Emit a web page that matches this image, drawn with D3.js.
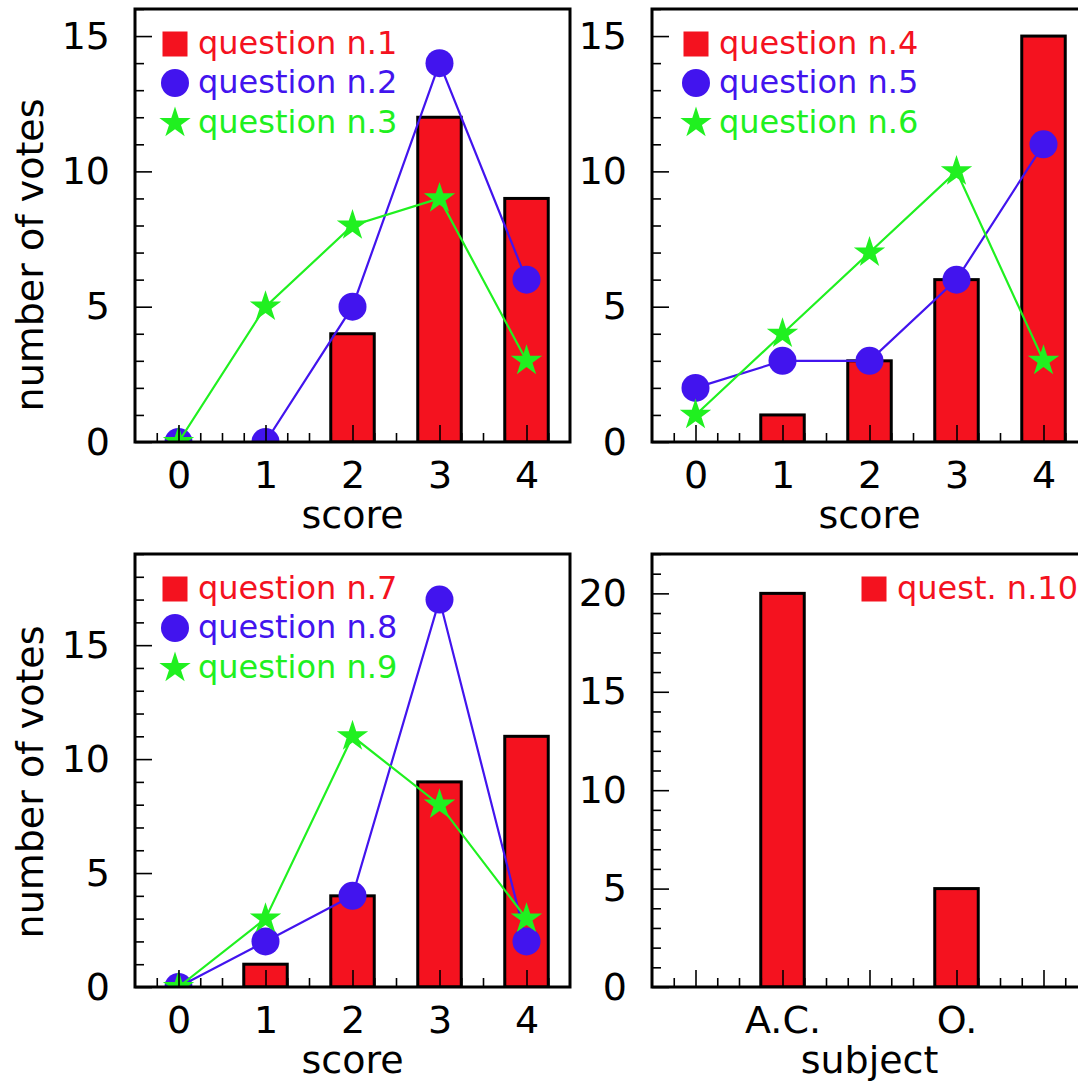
<!DOCTYPE html>
<html>
<head>
<meta charset="utf-8">
<script src="https://cdn.jsdelivr.net/npm/d3@7"></script>
<style>
  body { margin: 0; background: #fff; }
  svg { display: block; font-family: "DejaVu Sans", Verdana, sans-serif; }
</style>
</head>
<body>
<div id="chart"></div>
<script>
// data
var scores = [0, 1, 2, 3, 4];
var subjectTicks = ["", "A.C.", "", "O.", ""];

var q1 = [0, 0, 4, 12, 9];
var q2 = [0, 0, 5, 14, 6];
var q3 = [0, 5, 8, 9, 3];

var q4 = [0, 1, 3, 6, 15];
var q5 = [2, 3, 3, 6, 11];
var q6 = [1, 4, 7, 10, 3];

var q7 = [0, 1, 4, 9, 11];
var q8 = [0, 2, 4, 17, 2];
var q9 = [0, 3, 11, 8, 3];

var q10 = [0, 20, 0, 5, 0];

var RED = "#f4121f", BLUE = "#4214ee", GREEN = "#20f020";
var fs = 38;

var svg = d3.select("#chart").append("svg")
  .attr("width", 1078)
  .attr("height", 1081);

var W = 435, H = 433;

var panels = [
  { left: 135, top: 9, yMax: 16, labels: scores, xTitle: "score", yTitle: true, titleY: 255,
    bars: q1, lines: [q2, q3], names: ["question n.1", "question n.2", "question n.3"], legX: 27 },
  { left: 652, top: 9, yMax: 16, labels: scores, xTitle: "score", yTitle: false,
    bars: q4, lines: [q5, q6], names: ["question n.4", "question n.5", "question n.6"], legX: 31 },
  { left: 135, top: 554, yMax: 19, labels: scores, xTitle: "score", yTitle: true, titleY: 782,
    bars: q7, lines: [q8, q9], names: ["question n.7", "question n.8", "question n.9"], legX: 27 },
  { left: 652, top: 554, yMax: 22, labels: subjectTicks, xTitle: "subject", yTitle: false,
    bars: q10, lines: [], names: ["quest. n.10"], legX: 209 }
];

var lineColors = [BLUE, GREEN];
var markerKinds = ["circle", "star"];

function marker(g, kind, color, cx, cy) {
  if (kind == "circle") {
    g.append("circle").attr("cx", cx).attr("cy", cy).attr("r", 14).attr("fill", color);
  } else {
    g.append("path")
      .attr("d", d3.symbol().type(d3.symbolStar).size(16.5 * 16.5 / 0.8908)())
      .attr("transform", "translate(" + cx + "," + cy + ")")
      .attr("fill", color);
  }
}

panels.forEach(function(p, pi) {
  var g = svg.append("g").attr("transform", "translate(" + p.left + "," + p.top + ")");

  var x = d3.scaleLinear().domain([-0.5, 4.5]).range([0, W]);
  var y = d3.scaleLinear().domain([0, p.yMax]).range([H, 0]);

  g.append("clipPath").attr("id", "clip" + pi)
    .append("rect").attr("width", W).attr("height", H);

  var plot = g.append("g").attr("clip-path", "url(#clip" + pi + ")");

  // bars
  plot.selectAll("rect.bar")
    .data(p.bars.map(function(v, i) { return { i: i, v: v }; }).filter(function(d) { return d.v > 0; }))
    .enter()
    .append("rect")
    .attr("class", "bar")
    .attr("x", function(d) { return x(d.i - 0.25); })
    .attr("width", x(0.25) - x(-0.25))
    .attr("y", function(d) { return y(d.v); })
    .attr("height", function(d) { return H - y(d.v); })
    .attr("fill", RED)
    .attr("stroke", "#000")
    .attr("stroke-width", 3);

  // graphs: line then markers
  p.lines.forEach(function(vals, k) {
    var line = d3.line()
      .x(function(d, i) { return x(scores[i]); })
      .y(function(d) { return y(d); });
    plot.append("path")
      .datum(vals)
      .attr("d", line)
      .attr("fill", "none")
      .attr("stroke", lineColors[k])
      .attr("stroke-width", 2.2);
    vals.forEach(function(v, i) {
      marker(plot, markerKinds[k], lineColors[k], x(scores[i]), y(v));
    });
  });

  // axes, ticks pointing inward
  var xMajor = d3.axisBottom(x)
    .tickValues(scores)
    .tickSizeInner(-17).tickSizeOuter(0).tickPadding(19)
    .tickFormat(function(d, i) { return p.labels[i]; });
  var xMinor = d3.axisBottom(x)
    .tickValues(d3.range(-0.25, 4.5, 0.25).filter(function(v) { return Math.abs(v - Math.round(v)) > 0.01; }))
    .tickSizeInner(-9).tickSizeOuter(0).tickFormat("");

  var yMajor = d3.axisLeft(y)
    .tickValues(d3.range(0, p.yMax + 0.1, 5))
    .tickSizeInner(-17).tickSizeOuter(0).tickPadding(25)
    .tickFormat(d3.format("d"));
  var yMinor = d3.axisLeft(y)
    .tickValues(d3.range(1, p.yMax + 0.1, 1).filter(function(v) { return v % 5 != 0; }))
    .tickSizeInner(-9).tickSizeOuter(0).tickFormat("");

  [xMajor, xMinor].forEach(function(a) {
    g.append("g").attr("transform", "translate(0," + H + ")").call(a);
  });
  [yMajor, yMinor].forEach(function(a) {
    g.append("g").call(a);
  });

  g.selectAll(".domain").remove();
  g.selectAll(".tick line").attr("stroke", "#000").attr("stroke-width", 1.6);
  g.selectAll(".tick text").attr("fill", "#000").style("font-size", fs + "px")
    .style("font-family", "'DejaVu Sans', Verdana, sans-serif");

  // frame
  g.append("rect")
    .attr("width", W).attr("height", H)
    .attr("fill", "none").attr("stroke", "#000").attr("stroke-width", 3);

  // titles
  g.append("text")
    .attr("x", W / 2).attr("y", H + 86)
    .attr("text-anchor", "middle")
    .style("font-size", fs + "px")
    .text(p.xTitle);

  if (p.yTitle) {
    svg.append("text")
      .attr("transform", "translate(43," + p.titleY + ") rotate(-90)")
      .attr("text-anchor", "middle")
      .style("font-size", fs + "px")
      .text("number of votes");
  }

  // legend
  var colors = [RED, BLUE, GREEN];
  var rowY = [35, 74, 114];
  p.names.forEach(function(name, k) {
    var cx = p.legX + 13, cy = rowY[k];
    if (k == 0) {
      g.append("rect").attr("x", cx - 12.5).attr("y", cy - 12.5)
        .attr("width", 25).attr("height", 25).attr("fill", RED);
    } else {
      marker(g, markerKinds[k - 1], colors[k], cx, cy);
    }
    g.append("text")
      .attr("x", p.legX + 36).attr("y", cy + 10)
      .attr("fill", colors[k])
      .style("font-size", "32px")
      .text(name);
  });
});
</script>
</body>
</html>
